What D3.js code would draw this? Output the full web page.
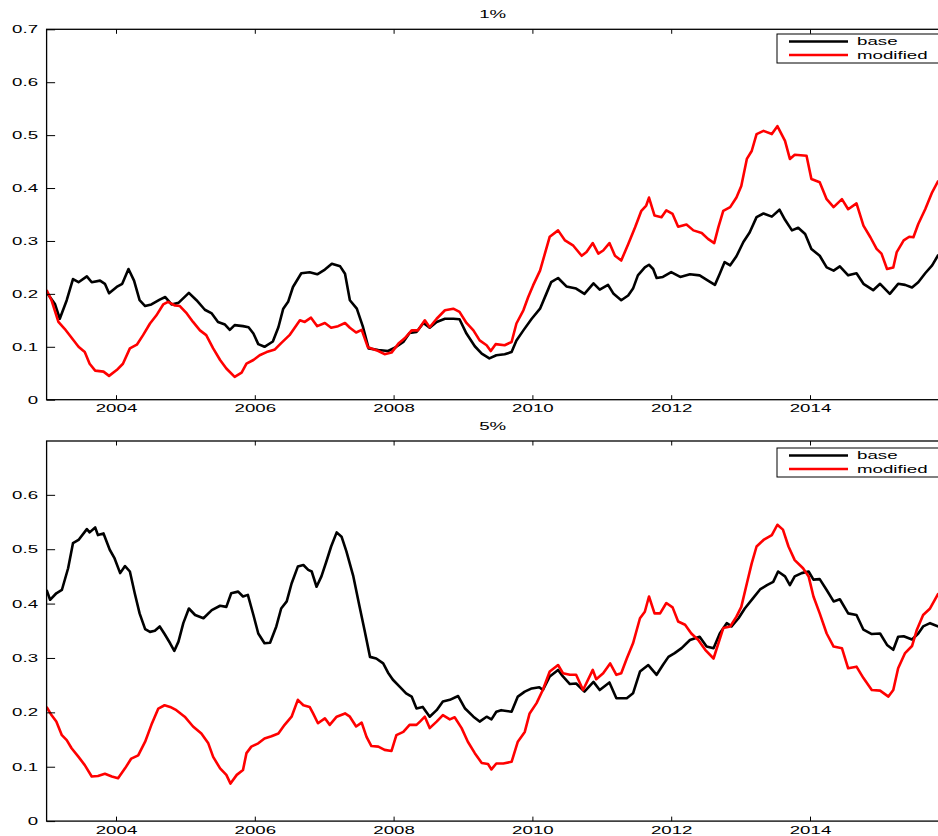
<!DOCTYPE html>
<html>
<head>
<meta charset="utf-8">
<script src="https://cdn.jsdelivr.net/npm/d3@7"></script>
<style>
  body { margin: 0; background: #fff; }
  svg text { font-family: "Liberation Sans", Arial, Helvetica, sans-serif; font-size: 10px; fill: #000; }
</style>
</head>
<body>
<svg id="chart" width="938" height="836"></svg>
<script>
// [year, value] pairs for each series
const base1 = [
  [2003.00,0.203],[2003.12,0.181],[2003.19,0.153],[2003.29,0.188],[2003.38,0.228],[2003.46,0.222],
  [2003.58,0.233],[2003.65,0.222],[2003.77,0.225],[2003.84,0.219],[2003.90,0.201],[2004.01,0.213],
  [2004.09,0.219],[2004.18,0.247],[2004.26,0.225],[2004.34,0.188],[2004.42,0.177],[2004.51,0.180],
  [2004.63,0.189],[2004.71,0.194],[2004.80,0.180],[2004.90,0.183],[2005.05,0.202],[2005.16,0.188],
  [2005.28,0.170],[2005.38,0.163],[2005.47,0.147],[2005.57,0.142],[2005.64,0.132],[2005.71,0.141],
  [2005.83,0.139],[2005.91,0.137],[2005.98,0.125],[2006.05,0.105],[2006.14,0.100],[2006.26,0.110],
  [2006.34,0.137],[2006.41,0.172],[2006.48,0.185],[2006.55,0.213],[2006.67,0.239],[2006.79,0.241],
  [2006.90,0.237],[2007.01,0.246],[2007.11,0.257],[2007.23,0.252],[2007.30,0.238],[2007.37,0.188],
  [2007.47,0.172],[2007.56,0.137],[2007.64,0.097],[2007.78,0.094],[2007.92,0.092],[2008.04,0.100],
  [2008.14,0.109],[2008.23,0.126],[2008.33,0.128],[2008.43,0.145],[2008.52,0.136],[2008.62,0.147],
  [2008.74,0.153],[2008.86,0.153],[2008.95,0.152],[2009.05,0.125],[2009.17,0.101],[2009.27,0.087],
  [2009.38,0.078],[2009.48,0.084],[2009.60,0.086],[2009.70,0.090],[2009.77,0.112],[2009.87,0.131],
  [2009.99,0.153],[2010.11,0.172],[2010.20,0.200],[2010.27,0.222],[2010.37,0.230],[2010.49,0.214],
  [2010.63,0.210],[2010.75,0.200],[2010.88,0.220],[2010.97,0.208],[2011.09,0.217],[2011.17,0.200],
  [2011.28,0.188],[2011.38,0.197],[2011.45,0.210],[2011.52,0.235],[2011.62,0.250],[2011.68,0.255],
  [2011.74,0.247],[2011.79,0.230],[2011.88,0.232],[2012.00,0.241],[2012.13,0.232],[2012.27,0.237],
  [2012.41,0.235],[2012.53,0.225],[2012.63,0.217],[2012.70,0.238],[2012.77,0.260],[2012.85,0.254],
  [2012.94,0.271],[2013.04,0.298],[2013.13,0.316],[2013.23,0.345],[2013.33,0.352],[2013.45,0.346],
  [2013.56,0.359],[2013.64,0.340],[2013.74,0.320],[2013.83,0.325],[2013.93,0.313],[2014.02,0.285],
  [2014.14,0.272],[2014.24,0.250],[2014.34,0.244],[2014.43,0.252],[2014.55,0.235],[2014.67,0.239],
  [2014.77,0.219],[2014.91,0.207],[2015.01,0.219],[2015.15,0.200],[2015.27,0.219],[2015.37,0.217],
  [2015.47,0.212],[2015.56,0.222],[2015.66,0.239],[2015.76,0.254],[2015.85,0.274]
];
const modified1 = [
  [2003.00,0.207],[2003.07,0.188],[2003.17,0.147],[2003.26,0.134],[2003.36,0.117],[2003.46,0.100],
  [2003.55,0.090],[2003.62,0.068],[2003.70,0.055],[2003.82,0.053],[2003.90,0.045],[2004.01,0.056],
  [2004.10,0.068],[2004.20,0.097],[2004.30,0.104],[2004.39,0.122],[2004.49,0.144],[2004.58,0.159],
  [2004.68,0.180],[2004.75,0.185],[2004.85,0.178],[2004.92,0.177],[2005.02,0.163],[2005.11,0.147],
  [2005.21,0.131],[2005.30,0.122],[2005.40,0.097],[2005.50,0.075],[2005.59,0.059],[2005.71,0.043],
  [2005.81,0.051],[2005.88,0.068],[2005.98,0.075],[2006.07,0.084],[2006.17,0.090],[2006.29,0.095],
  [2006.38,0.107],[2006.50,0.122],[2006.65,0.150],[2006.72,0.147],[2006.81,0.155],[2006.90,0.139],
  [2007.01,0.145],[2007.10,0.136],[2007.20,0.139],[2007.30,0.145],[2007.37,0.136],[2007.46,0.127],
  [2007.54,0.132],[2007.63,0.099],[2007.78,0.092],[2007.87,0.086],[2007.97,0.089],[2008.07,0.106],
  [2008.16,0.116],[2008.26,0.131],[2008.35,0.131],[2008.45,0.150],[2008.52,0.137],[2008.62,0.153],
  [2008.74,0.169],[2008.86,0.172],[2008.95,0.166],[2009.05,0.145],[2009.15,0.131],[2009.24,0.112],
  [2009.34,0.103],[2009.40,0.092],[2009.47,0.105],[2009.60,0.103],[2009.70,0.109],[2009.77,0.144],
  [2009.87,0.169],[2009.94,0.194],[2010.01,0.216],[2010.11,0.244],[2010.18,0.276],[2010.25,0.308],
  [2010.37,0.320],[2010.47,0.301],[2010.59,0.291],[2010.71,0.272],[2010.78,0.279],[2010.87,0.296],
  [2010.95,0.276],[2011.02,0.282],[2011.11,0.296],[2011.19,0.272],[2011.28,0.263],[2011.38,0.294],
  [2011.48,0.326],[2011.57,0.357],[2011.64,0.367],[2011.68,0.382],[2011.76,0.348],[2011.86,0.345],
  [2011.93,0.358],[2012.02,0.351],[2012.10,0.327],[2012.22,0.331],[2012.32,0.320],[2012.44,0.315],
  [2012.53,0.304],[2012.62,0.296],[2012.68,0.326],[2012.75,0.357],[2012.85,0.364],[2012.94,0.382],
  [2013.01,0.404],[2013.09,0.455],[2013.16,0.470],[2013.23,0.502],[2013.33,0.508],[2013.45,0.502],
  [2013.53,0.517],[2013.64,0.489],[2013.71,0.455],[2013.78,0.463],[2013.95,0.461],[2014.02,0.417],
  [2014.14,0.411],[2014.24,0.379],[2014.34,0.364],[2014.46,0.379],[2014.55,0.360],[2014.67,0.371],
  [2014.77,0.329],[2014.87,0.307],[2014.96,0.285],[2015.03,0.276],[2015.11,0.247],[2015.20,0.250],
  [2015.25,0.279],[2015.35,0.301],[2015.43,0.308],[2015.49,0.307],[2015.56,0.332],[2015.66,0.360],
  [2015.76,0.392],[2015.85,0.414]
];
const base5 = [
  [2003.00,0.425],[2003.05,0.407],[2003.14,0.419],[2003.22,0.425],[2003.31,0.465],[2003.38,0.511],
  [2003.46,0.517],[2003.58,0.537],[2003.62,0.531],[2003.70,0.540],[2003.74,0.526],[2003.82,0.529],
  [2003.91,0.499],[2003.98,0.483],[2004.06,0.456],[2004.13,0.469],[2004.20,0.459],[2004.27,0.419],
  [2004.34,0.382],[2004.42,0.353],[2004.49,0.348],[2004.56,0.350],[2004.63,0.358],[2004.70,0.344],
  [2004.78,0.327],[2004.84,0.313],[2004.90,0.330],[2004.97,0.364],[2005.05,0.391],[2005.14,0.379],
  [2005.26,0.373],[2005.38,0.388],[2005.50,0.396],[2005.59,0.394],[2005.66,0.419],[2005.76,0.422],
  [2005.83,0.413],[2005.90,0.416],[2005.98,0.379],[2006.05,0.345],[2006.14,0.327],[2006.22,0.328],
  [2006.31,0.358],[2006.38,0.391],[2006.46,0.404],[2006.53,0.437],[2006.62,0.468],[2006.70,0.471],
  [2006.77,0.462],[2006.82,0.459],[2006.89,0.431],[2006.96,0.450],[2007.03,0.477],[2007.10,0.505],
  [2007.18,0.531],[2007.25,0.523],[2007.32,0.496],[2007.42,0.450],[2007.51,0.394],[2007.58,0.352],
  [2007.66,0.302],[2007.75,0.299],[2007.85,0.290],[2007.92,0.273],[2007.99,0.260],[2008.09,0.247],
  [2008.18,0.235],[2008.26,0.229],[2008.33,0.207],[2008.42,0.210],[2008.52,0.192],[2008.62,0.204],
  [2008.71,0.220],[2008.81,0.223],[2008.93,0.230],[2009.03,0.207],[2009.15,0.192],[2009.24,0.183],
  [2009.34,0.192],[2009.41,0.187],[2009.48,0.201],[2009.55,0.204],[2009.70,0.201],[2009.79,0.229],
  [2009.89,0.238],[2009.99,0.244],[2010.10,0.246],[2010.15,0.241],[2010.25,0.266],[2010.37,0.278],
  [2010.44,0.266],[2010.54,0.252],[2010.63,0.253],[2010.75,0.238],[2010.88,0.256],[2010.97,0.241],
  [2011.11,0.255],[2011.21,0.226],[2011.36,0.226],[2011.45,0.235],[2011.55,0.275],[2011.67,0.287],
  [2011.79,0.269],[2011.88,0.287],[2011.96,0.302],[2012.05,0.309],[2012.15,0.318],[2012.27,0.333],
  [2012.41,0.339],[2012.51,0.321],[2012.61,0.318],[2012.70,0.345],[2012.80,0.364],[2012.87,0.358],
  [2012.97,0.373],[2013.06,0.391],[2013.18,0.410],[2013.28,0.426],[2013.38,0.434],[2013.47,0.440],
  [2013.54,0.459],[2013.64,0.450],[2013.71,0.434],[2013.78,0.450],[2013.88,0.456],[2013.98,0.459],
  [2014.05,0.444],[2014.14,0.445],[2014.24,0.425],[2014.34,0.404],[2014.43,0.408],[2014.55,0.382],
  [2014.67,0.379],[2014.77,0.352],[2014.89,0.344],[2015.01,0.345],[2015.11,0.324],[2015.20,0.315],
  [2015.27,0.339],[2015.35,0.340],[2015.47,0.334],[2015.56,0.345],[2015.63,0.358],[2015.73,0.364],
  [2015.85,0.358]
];
const modified5 = [
  [2003.00,0.210],[2003.07,0.195],[2003.14,0.183],[2003.22,0.158],[2003.29,0.149],[2003.36,0.134],
  [2003.46,0.118],[2003.55,0.103],[2003.65,0.082],[2003.74,0.083],[2003.84,0.087],[2003.94,0.082],
  [2004.03,0.079],[2004.13,0.097],[2004.22,0.115],[2004.32,0.121],[2004.42,0.146],[2004.51,0.177],
  [2004.61,0.207],[2004.70,0.213],[2004.78,0.210],[2004.87,0.204],[2004.99,0.192],[2005.11,0.174],
  [2005.23,0.161],[2005.33,0.143],[2005.40,0.118],[2005.50,0.097],[2005.59,0.085],[2005.65,0.069],
  [2005.74,0.085],[2005.83,0.094],[2005.88,0.125],[2005.95,0.137],[2006.05,0.143],[2006.14,0.152],
  [2006.24,0.156],[2006.34,0.161],[2006.43,0.177],[2006.53,0.192],[2006.62,0.223],[2006.70,0.213],
  [2006.79,0.210],[2006.84,0.198],[2006.91,0.180],[2007.01,0.189],[2007.08,0.177],[2007.18,0.192],
  [2007.30,0.198],[2007.37,0.192],[2007.46,0.174],[2007.54,0.181],[2007.61,0.155],[2007.68,0.138],
  [2007.78,0.137],[2007.87,0.131],[2007.97,0.129],[2008.04,0.158],[2008.14,0.164],[2008.23,0.177],
  [2008.33,0.177],[2008.38,0.183],[2008.45,0.192],[2008.52,0.171],[2008.62,0.183],[2008.71,0.195],
  [2008.81,0.187],[2008.88,0.191],[2008.98,0.171],[2009.07,0.146],[2009.17,0.125],[2009.27,0.107],
  [2009.36,0.105],[2009.41,0.095],[2009.48,0.106],[2009.58,0.106],[2009.70,0.109],[2009.79,0.146],
  [2009.89,0.164],[2009.96,0.198],[2010.06,0.217],[2010.15,0.241],[2010.25,0.275],[2010.37,0.287],
  [2010.44,0.272],[2010.54,0.269],[2010.63,0.269],[2010.73,0.241],[2010.87,0.278],[2010.92,0.261],
  [2011.02,0.272],[2011.12,0.290],[2011.21,0.269],[2011.28,0.272],[2011.36,0.299],[2011.45,0.327],
  [2011.55,0.373],[2011.62,0.385],[2011.68,0.413],[2011.76,0.382],[2011.84,0.382],[2011.93,0.401],
  [2012.02,0.393],[2012.10,0.367],[2012.20,0.361],[2012.29,0.345],[2012.39,0.333],[2012.49,0.315],
  [2012.61,0.299],[2012.68,0.327],[2012.75,0.355],[2012.85,0.358],[2012.94,0.376],[2013.01,0.394],
  [2013.09,0.437],[2013.16,0.474],[2013.23,0.505],[2013.33,0.517],[2013.45,0.526],[2013.53,0.545],
  [2013.61,0.536],[2013.69,0.505],[2013.78,0.480],[2013.90,0.465],[2013.98,0.450],[2014.05,0.413],
  [2014.14,0.382],[2014.24,0.345],[2014.34,0.321],[2014.46,0.318],[2014.55,0.281],[2014.67,0.284],
  [2014.77,0.263],[2014.89,0.241],[2015.01,0.240],[2015.13,0.229],[2015.20,0.241],[2015.27,0.281],
  [2015.37,0.309],[2015.47,0.322],[2015.54,0.352],[2015.63,0.379],[2015.73,0.391],[2015.85,0.419]
];

const seriesNames = ["base", "modified"];
const seriesColors = ["#000000", "#ff0000"];
const panelTitles = ["1%", "5%"];
const yearTicks = [2004, 2006, 2008, 2010, 2012, 2014];
const yTicksTop = [0, 0.1, 0.2, 0.3, 0.4, 0.5, 0.6, 0.7];
const yTicksBottom = [0, 0.1, 0.2, 0.3, 0.4, 0.5, 0.6];

const svg = d3.select("#chart");
const XSTRETCH = 1.87;            // wide text, as in the original figure export
const xLeft = 46.6, xRight = 948.8;

const panels = [
  { title: panelTitles[0], series: [base1, modified1], yMax: 0.7,   yTicks: yTicksTop,    top: 29.3, bottom: 399.7, legendTop: 34 },
  { title: panelTitles[1], series: [base5, modified5], yMax: 0.699, yTicks: yTicksBottom, top: 441,  bottom: 821.1, legendTop: 448 }
];

const x = d3.scaleLinear().domain([2003, 2016]).range([xLeft, xRight]);
const yFmt = d => d === 0 ? "0" : d3.format(".1f")(d);

function stretchText(sel, dx, dy, anchor) {
  sel.attr("x", null).attr("y", null).attr("dy", null)
     .attr("text-anchor", anchor)
     .attr("transform", `translate(${dx},${dy}) scale(${XSTRETCH},1)`);
}

panels.forEach((p, i) => {
  const y = d3.scaleLinear().domain([0, p.yMax]).range([p.bottom, p.top]);
  const g = svg.append("g");

  const clipId = "clip" + i;
  svg.append("clipPath").attr("id", clipId)
    .append("rect").attr("x", xLeft).attr("y", p.top).attr("width", xRight - xLeft).attr("height", p.bottom - p.top);

  // series lines
  const line = d3.line().x(d => x(d[0])).y(d => y(d[1]));
  p.series.forEach((s, k) => {
    g.append("path").datum(s)
      .attr("clip-path", `url(#${clipId})`)
      .attr("fill", "none")
      .attr("stroke", seriesColors[k])
      .attr("stroke-width", 2.6)
      .attr("stroke-linejoin", "round")
      .attr("d", line);
  });

  // bottom axis with inward ticks
  const gx = g.append("g").attr("transform", `translate(0,${p.bottom})`)
    .call(d3.axisBottom(x).tickValues(yearTicks).tickFormat(d3.format("d")).tickSizeInner(-4.5).tickSizeOuter(0));
  gx.select(".domain").remove();
  gx.selectAll(".tick line").attr("stroke", "#000");
  gx.selectAll(".tick text").call(stretchText, 0, 12.6, "middle").attr("font-size", null).attr("font-family", null);

  // top axis ticks
  const gt = g.append("g").attr("transform", `translate(0,${p.top})`)
    .call(d3.axisTop(x).tickValues(yearTicks).tickFormat("").tickSizeInner(-4.5).tickSizeOuter(0));
  gt.select(".domain").remove();
  gt.selectAll(".tick line").attr("stroke", "#000");

  // left axis with inward ticks
  const gy = g.append("g").attr("transform", `translate(${xLeft},0)`)
    .call(d3.axisLeft(y).tickValues(p.yTicks).tickFormat(yFmt).tickSizeInner(-8.5).tickSizeOuter(0));
  gy.select(".domain").remove();
  gy.selectAll(".tick line").attr("stroke", "#000");
  gy.selectAll(".tick text").call(stretchText, -8.5, 3.6, "end").attr("font-size", null).attr("font-family", null);

  // frame
  g.append("rect")
    .attr("x", xLeft).attr("y", p.top)
    .attr("width", xRight - xLeft).attr("height", p.bottom - p.top)
    .attr("fill", "none").attr("stroke", "#000").attr("stroke-width", 1.3);

  // title
  g.append("text").text(p.title)
    .call(stretchText, (xLeft + xRight) / 2 - 5, p.top - 11, "middle");

  // legend
  const lg = g.append("g").attr("transform", `translate(777,${p.legendTop})`);
  lg.append("rect").attr("width", 180).attr("height", 29)
    .attr("fill", "#fff").attr("stroke", "#000").attr("stroke-width", 1);
  seriesNames.forEach((name, k) => {
    const ly = 7.5 + k * 13.5;
    lg.append("line").attr("x1", 12).attr("x2", 71).attr("y1", ly).attr("y2", ly)
      .attr("stroke", seriesColors[k]).attr("stroke-width", 2.6);
    lg.append("text").text(name).call(stretchText, 80, ly + 3.6, "start");
  });
});
</script>
</body>
</html>
